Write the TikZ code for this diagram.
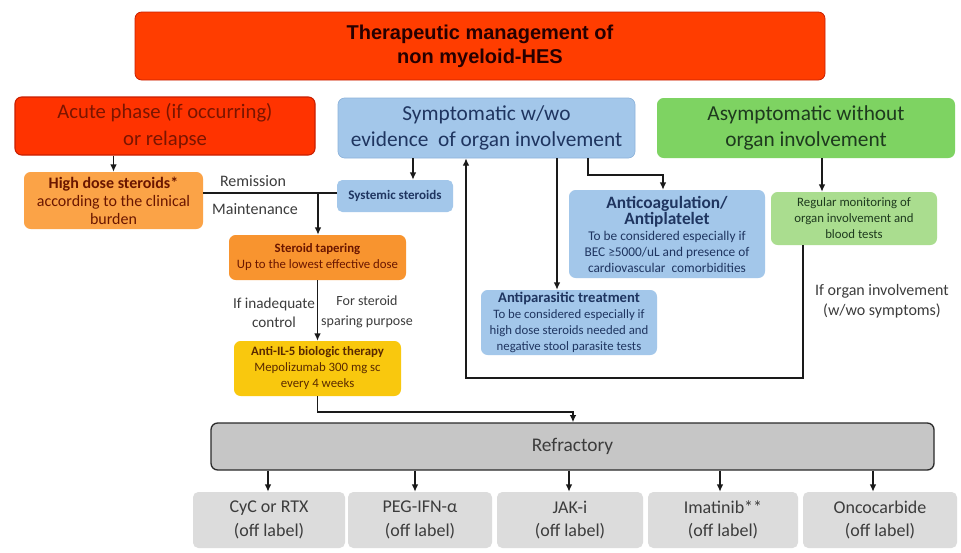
\documentclass[tikz,border=0pt]{standalone}
\usepackage{fontspec}
\setmainfont{Carlito}
\newfontfamily\titlefont{Liberation Sans}
\usetikzlibrary{arrows.meta}
\definecolor{titlered}{HTML}{FF3D00}
\definecolor{acutered}{HTML}{FF3300}
\definecolor{acuteedge}{HTML}{C81E00}
\definecolor{acutetext}{HTML}{7A1500}
\definecolor{symblue}{HTML}{A3C7EA}
\definecolor{blueedge}{HTML}{8DB3DA}
\definecolor{bluetext}{HTML}{1F3560}
\definecolor{asymgreen}{HTML}{7ED362}
\definecolor{greentext}{HTML}{1E3A1E}
\definecolor{hdsorange}{HTML}{FBA347}
\definecolor{taperorange}{HTML}{F8942F}
\definecolor{orangetext}{HTML}{6A1600}
\definecolor{il5yellow}{HTML}{F9C80E}
\definecolor{il5text}{HTML}{5A2A00}
\definecolor{monitorgreen}{HTML}{AADD8F}
\definecolor{refrgray}{HTML}{C6C6C6}
\definecolor{refredge}{HTML}{2A2A2A}
\definecolor{bottomgray}{HTML}{DCDCDC}
\definecolor{graytext}{HTML}{3C3C3C}
\definecolor{linecol}{HTML}{1A1A1A}
\newcommand\headA[1]{{\bfseries\fontsize{13}{15}\selectfont #1}}
\newcommand\headB[1]{{\bfseries\fontsize{11}{13}\selectfont #1}}
\begin{document}
\begin{tikzpicture}[x=0.75pt,y=-0.75pt,
  wh/.style 2 args={minimum width=#1*0.75pt, minimum height=#2*0.75pt},
  box/.style={rounded corners=5pt, inner sep=0pt, align=center},
  arr/.style={draw=linecol, line width=1pt, -{Latex[length=5.5pt,width=5pt]}},
  ln/.style={draw=linecol, line width=1pt},
  lbl/.style={font=\fontsize{12}{14}\selectfont, text=graytext, align=center, inner sep=0pt},
  bottombox/.style={box, rounded corners=4pt, fill=bottomgray, text=graytext, font=\fontsize{13.5}{17.5}\selectfont}
]
\useasboundingbox[fill=white] (0,0) rectangle (961,553);

% top level boxes
\node[box, wh={690}{68}, fill=titlered, draw=acuteedge, line width=0.6pt, text=black!85!red,
  font=\titlefont\bfseries\fontsize{15}{18}\selectfont] (title) at (480,46)
  {Therapeutic management of\\non myeloid-HES};
\node[box, wh={300}{58}, fill=acutered, draw=acuteedge, line width=0.8pt, text=acutetext,
  font=\fontsize{15.5}{20}\selectfont] (acute) at (165,126)
  {Acute phase (if occurring)\\or relapse};
\node[box, wh={297}{60}, fill=symblue, draw=blueedge, line width=0.5pt, text=bluetext,
  font=\fontsize{16}{20}\selectfont] (sympt) at (486.5,128)
  {Symptomatic w/wo\\evidence~ of organ involvement};
\node[box, wh={298}{60}, fill=asymgreen, text=greentext,
  font=\fontsize{16}{20}\selectfont] (asym) at (806,128)
  {Asymptomatic without\\organ involvement};

% second level
\node[box, wh={179}{57}, fill=hdsorange, text=orangetext,
  font=\fontsize{12}{13.5}\selectfont] (hds) at (113.5,200.5)
  {\textbf{High dose steroids*}\\according to the clinical\\burden};
\node[box, rounded corners=4pt, wh={116}{32}, fill=symblue, text=bluetext,
  font=\bfseries\fontsize{9.8}{11}\selectfont] (sys) at (395,196)
  {Systemic steroids};
\node[box, wh={177}{45}, fill=taperorange, text=orangetext,
  font=\fontsize{9.6}{12}\selectfont] (taper) at (317.5,257.5)
  {\textbf{Steroid tapering}\\Up to the lowest effective dose};
\node[box, wh={167}{55}, fill=il5yellow, text=il5text,
  font=\fontsize{9.6}{12}\selectfont] (il5) at (317.5,368.5)
  {\textbf{Anti-IL-5 biologic therapy}\\Mepolizumab 300 mg sc\\every 4 weeks};
\node[box, wh={196}{88}, fill=symblue, text=bluetext,
  font=\fontsize{10}{12}\selectfont] (anticoag) at (667,234)
  {\headA{Anticoagulation/}\\\headA{Antiplatelet}\\To be considered especially if\\BEC ≥5000/uL and presence of\\cardiovascular~ comorbidities};
\node[box, wh={176}{65}, fill=symblue, text=bluetext,
  font=\fontsize{9.6}{11.8}\selectfont] (antipar) at (569,322.5)
  {\headB{Antiparasitic treatment}\\To be considered especially if\\high dose steroids needed and\\negative stool parasite tests};
\node[box, wh={166}{53}, fill=monitorgreen, text=greentext,
  font=\fontsize{9.6}{12}\selectfont] (monitor) at (854,218.5)
  {Regular monitoring of\\organ involvement and\\blood tests};

% refractory
\node[box, wh={723}{47}, fill=refrgray, draw=refredge, line width=1pt, text=graytext,
  font=\fontsize{14.5}{17}\selectfont] (refr) at (572.5,446.5) {Refractory};
\node[bottombox, wh={152}{56}] (b1) at (269,520) {CyC or RTX\\(off label)};
\node[bottombox, wh={144}{56}] (b2) at (420,520) {PEG-IFN-α\\(off label)};
\node[bottombox, wh={146}{56}] (b3) at (570,520) {JAK-i\\(off label)};
\node[bottombox, wh={150}{56}] (b4) at (723,520) {Imatinib**\\(off label)};
\node[bottombox, wh={154}{56}] (b5) at (880,520) {Oncocarbide\\(off label)};

% labels
\node[lbl] (remission) at (253,181) {Remission};
\node[lbl] (maint) at (255,209) {Maintenance};
\node[lbl, font=\fontsize{11.4}{14.5}\selectfont] (inadeq) at (274,313) {If inadequate\\control};
\node[lbl, font=\fontsize{10.5}{14.5}\selectfont] (sparing) at (367,312) {For steroid\\sparing purpose};
\node[lbl, font=\fontsize{12}{15}\selectfont] (iforgan) at (882,301) {If organ involvement\\(w/wo symptoms)};

% helper coordinates
\coordinate (j1) at (318,193);
\coordinate (xs) at (413,0);
\coordinate (r1) at (573,412);
\coordinate (x2) at (557,0);
\coordinate (c1) at (588,175);
\coordinate (c2) at (663,175);
\coordinate (x3) at (822,0);
\coordinate (l1) at (803,378);
\coordinate (l2) at (466,378);
\coordinate (d1) at (268,0);
\coordinate (d2) at (415,0);
\coordinate (d3) at (569,0);
\coordinate (d4) at (720,0);
\coordinate (d5) at (873,0);

% connectors
\draw[arr] (acute.south -| hds.north) -- (hds.north);
\draw[ln] (hds.east |- j1) -- (sys.west |- j1);
\draw[arr] (j1) -- (taper.north -| j1);
\draw[arr] (sympt.south -| xs) -- (sys.north -| xs);
\draw[arr] (taper.south) -- (il5.north);
\draw[arr] (il5.south) |- (r1) -- (refr.north -| r1);
\draw[arr] (sympt.south -| x2) -- (antipar.north -| x2);
\draw[arr] (sympt.south -| c1) -- (c1) -- (c2) -- (anticoag.north -| c2);
\draw[arr] (asym.south -| x3) -- (monitor.north -| x3);
\draw[arr] (monitor.south -| l1) -- (l1) -- (l2) -- (sympt.south -| l2);
\draw[arr] (refr.south -| d1) -- (b1.north -| d1);
\draw[arr] (refr.south -| d2) -- (b2.north -| d2);
\draw[arr] (refr.south -| d3) -- (b3.north -| d3);
\draw[arr] (refr.south -| d4) -- (b4.north -| d4);
\draw[arr] (refr.south -| d5) -- (b5.north -| d5);
\end{tikzpicture}
\end{document}
